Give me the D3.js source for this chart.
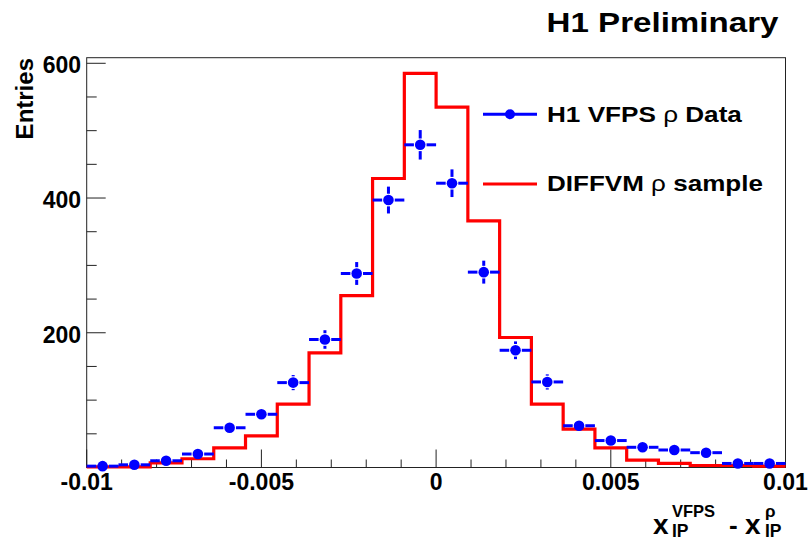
<!DOCTYPE html>
<html>
<head>
<meta charset="utf-8">
<script src="https://cdn.jsdelivr.net/npm/d3@7"></script>
<style>
  html, body { margin: 0; padding: 0; background: #fff; }
  svg { display: block; }
  text { font-family: "Liberation Sans", Arial, Helvetica, sans-serif; font-weight: bold; fill: #000; }
</style>
</head>
<body>
<svg id="chart" width="811" height="541"></svg>
<script>
// ---------------- data ----------------
const xMin = -0.01, xMax = 0.01;
const nBins = 22;
const binIndex = d3.range(nBins);
// H1 VFPS rho data (entries per bin)
const dataValues = [2, 4, 10, 20, 59, 79, 126, 190, 288, 397, 479, 422, 290, 174, 127, 62, 40, 30, 26, 22, 6, 6];
// DIFFVM rho MC sample (entries per bin)
const mcValues = [1, 1, 7, 13, 29, 47, 94, 170, 255, 429, 585, 535, 366, 193, 94, 57, 29, 11, 6, 3, 3, 2];
const xTickMajor = [-0.01, -0.005, 0, 0.005, 0.01];
const xTickLabels = ["-0.01", "-0.005", "0", "0.005", "0.01"];
const yTickMajor = [0, 200, 400, 600];
const yTickLabels = ["", "200", "400", "600"];
const legendLabels = [["H1 VFPS ", "ρ", " Data"], ["DIFFVM ", "ρ", " sample"]];
const titleText = "H1 Preliminary";

// ---------------- layout ----------------
const svg = d3.select("#chart");
const L = 86.7, R = 785.5, T = 57.7, B = 467.5;
const x = d3.scaleLinear().domain([xMin, xMax]).range([L, R]);
const y = d3.scaleLinear().domain([0, 608.3]).range([B, T]);
const binW = (xMax - xMin) / nBins;
const edge = i => xMin + i * binW;
const center = i => xMin + (i + 0.5) * binW;
const BLUE = "#0000ff", RED = "#ff0000";

// frame
svg.append("rect").attr("x", L).attr("y", T).attr("width", R - L).attr("height", B - T)
  .attr("fill", "none").attr("stroke", "#222").attr("stroke-width", 1);

// x ticks (inside, upward)
const xMinor = d3.range(-10, 11).map(k => k * 0.001);
svg.append("g").selectAll("line").data(xMinor).join("line")
  .attr("x1", d => x(d)).attr("x2", d => x(d))
  .attr("y1", B).attr("y2", d => (Math.abs(Math.round(d * 1000)) % 5 === 0) ? B - 18 : B - 8)
  .attr("stroke", "#222").attr("stroke-width", 1);
svg.append("g").selectAll("text").data(xTickMajor).join("text")
  .attr("x", d => x(d)).attr("y", 490).attr("text-anchor", "middle")
  .attr("font-size", 23).text((d, i) => xTickLabels[i]);

// y ticks (inside, rightward)
const yMinor = d3.range(0, 601, 50);
svg.append("g").selectAll("line").data(yMinor).join("line")
  .attr("x1", L).attr("x2", d => d % 200 === 0 ? L + 19 : L + 10)
  .attr("y1", d => y(d)).attr("y2", d => y(d))
  .attr("stroke", "#222").attr("stroke-width", 1);
svg.append("g").selectAll("text").data(yTickMajor).join("text")
  .attr("x", 81).attr("y", d => y(d) + 10).attr("text-anchor", "end")
  .attr("font-size", 23).text((d, i) => yTickLabels[i]);

// y label
svg.append("text").attr("transform", "translate(32.5,58) rotate(-90)")
  .attr("text-anchor", "end").attr("font-size", 24).text("Entries");

// x label: x_IP^VFPS - x_IP^rho
const xl = svg.append("g");
xl.append("text").attr("x", 653).attr("y", 533.5).attr("font-size", 28).text("x");
xl.append("text").attr("x", 672).attr("y", 517).attr("font-size", 16.5).text("VFPS");
xl.append("text").attr("x", 672).attr("y", 537).attr("font-size", 17.5).text("IP");
xl.append("text").attr("x", 729).attr("y", 533.5).attr("font-size", 26).text("-");
xl.append("text").attr("x", 745).attr("y", 533.5).attr("font-size", 28).text("x");
xl.append("text").attr("x", 765).attr("y", 517).attr("font-size", 17).attr("font-weight", "normal").text("ρ");
xl.append("text").attr("x", 765).attr("y", 537).attr("font-size", 17.5).text("IP");

// title (stretched horizontally as in reference)
function stretchText(sel, target) {
  const w = sel.node().getComputedTextLength();
  const tr = sel.attr("data-tr");
  sel.attr("transform", tr + " scale(" + (target / w) + ",1)");
}
const title = svg.append("text").attr("data-tr", "translate(546.5,32.3)")
  .attr("font-size", 27.5).text(titleText);
stretchText(title, 232);

// MC histogram (step line)
const stepPts = [];
binIndex.forEach(i => {
  stepPts.push([x(edge(i)), y(mcValues[i])]);
  stepPts.push([x(edge(i + 1)), y(mcValues[i])]);
});
svg.append("path").attr("d", d3.line()(stepPts))
  .attr("fill", "none").attr("stroke", RED).attr("stroke-width", 3.2)
  .attr("stroke-linejoin", "miter").attr("stroke-linecap", "butt");

// data points with error bars (gap around marker)
const mr = 5.3, gap = 1;
const pts = svg.append("g");
binIndex.forEach(i => {
  const cx = x(center(i)), cy = y(dataValues[i]);
  const xl0 = x(edge(i)), xr0 = x(edge(i + 1));
  const err = Math.sqrt(dataValues[i]);
  const yt = y(dataValues[i] + err), yb = y(Math.max(0, dataValues[i] - err));
  const st = "stroke", c = BLUE;
  pts.append("line").attr("x1", xl0).attr("x2", cx - mr - gap).attr("y1", cy).attr("y2", cy).attr(st, c).attr("stroke-width", 3);
  pts.append("line").attr("x1", cx + mr + gap).attr("x2", xr0).attr("y1", cy).attr("y2", cy).attr(st, c).attr("stroke-width", 3);
  if (cy - yt > mr + gap) pts.append("line").attr("x1", cx).attr("x2", cx).attr("y1", yt).attr("y2", cy - mr - gap).attr(st, c).attr("stroke-width", 3);
  if (yb - cy > mr + gap) pts.append("line").attr("x1", cx).attr("x2", cx).attr("y1", cy + mr + gap).attr("y2", yb).attr(st, c).attr("stroke-width", 3);
  pts.append("circle").attr("cx", cx).attr("cy", cy).attr("r", mr).attr("fill", c);
});

// legend
const legY = [114.3, 184];
const legBase = [121.7, 191.2];
const legW = [195, 216];
legendLabels.forEach((lab, k) => {
  const col = k === 0 ? BLUE : RED;
  svg.append("line").attr("x1", 483).attr("x2", 537).attr("y1", legY[k]).attr("y2", legY[k])
    .attr("stroke", col).attr("stroke-width", 3);
  if (k === 0) svg.append("circle").attr("cx", 510).attr("cy", legY[k]).attr("r", 5).attr("fill", col);
  const t = svg.append("text").attr("data-tr", "translate(547," + legBase[k] + ")").attr("font-size", 22);
  t.append("tspan").text(lab[0]);
  t.append("tspan").attr("font-weight", "normal").text(lab[1]);
  t.append("tspan").text(lab[2]);
  stretchText(t, legW[k]);
});
</script>
</body>
</html>
